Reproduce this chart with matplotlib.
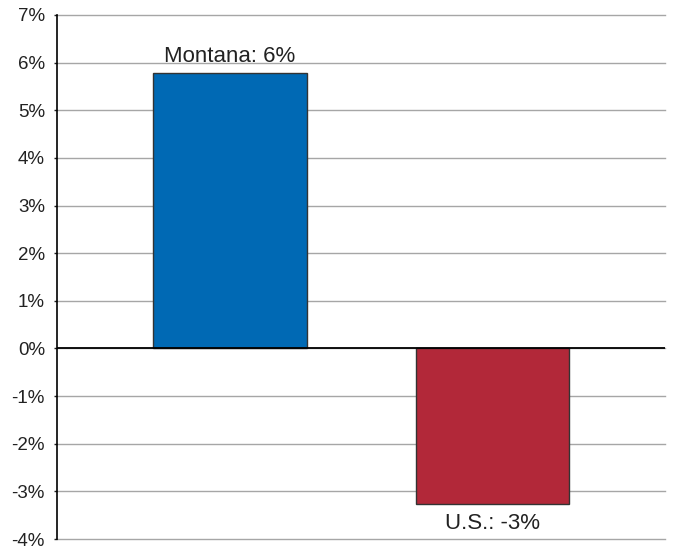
import matplotlib.pyplot as plt
from matplotlib.ticker import FuncFormatter

# Job growth comparison
regions = ["Montana", "U.S."]
changes = [5.79, -3.26]
bar_colors = ["#0069b4", "#b22839"]
y_ticks = list(range(-4, 8))

plt.rcParams["font.family"] = ["Liberation Sans", "DejaVu Sans"]

fig = plt.figure(figsize=(6.73, 5.49), dpi=100)
ax = fig.add_axes([0.0854, 0.0182, 0.9026, 0.9545])

x = range(len(regions))
bars = ax.bar(x, changes, width=0.584, color=bar_colors,
              edgecolor="#333333", linewidth=1.0, zorder=3)

# value labels above / below each bar
for xi, name, val in zip(x, regions, changes):
    if val >= 0:
        ax.text(xi, val + 0.23, f"{name}: {val:.0f}%", ha="center", va="baseline",
                fontsize=16, color="#222222", zorder=5)
    else:
        ax.text(xi, val - 0.52, f"{name}: {val:.0f}%", ha="center", va="baseline",
                fontsize=16, color="#222222", zorder=5)

ax.set_ylim(-4, 7)
ax.set_xlim(-0.655, 1.655)
ax.set_yticks(y_ticks)
ax.yaxis.set_major_formatter(FuncFormatter(lambda v, p: f"{v:.0f}%"))
ax.tick_params(axis="y", labelsize=13.5, length=2, width=1, pad=7, colors="#222222")
ax.set_xticks([])

ax.grid(axis="y", color="#a6a6a6", linewidth=1.0, zorder=0)
for line in ax.get_ygridlines():
    line.set_clip_on(False)
ax.axhline(0, color="black", linewidth=1.3, zorder=4)

for side in ["top", "right", "bottom"]:
    ax.spines[side].set_visible(False)
ax.spines["left"].set_linewidth(1.2)

plt.savefig("out.png", dpi=100)
